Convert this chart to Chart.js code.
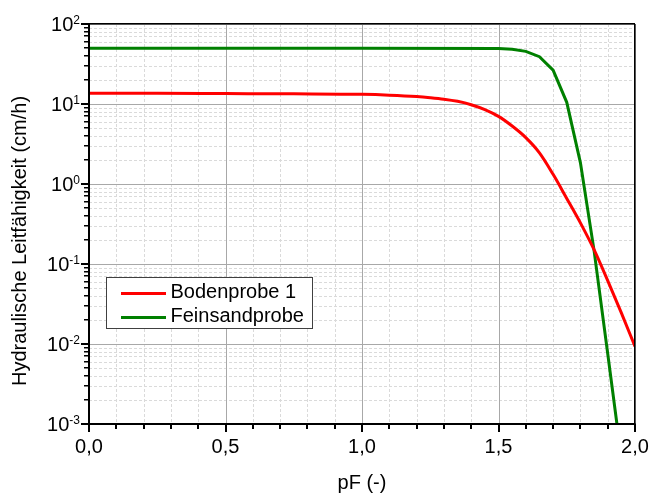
<!DOCTYPE html>
<html>
<head>
<meta charset="utf-8">
<script src="https://cdn.jsdelivr.net/npm/chart.js@4.4.1/dist/chart.umd.min.js"></script>
<style>
    html, body { margin: 0; padding: 0; background: #fff; }
    #wrap { width: 662px; height: 493px; }
</style>
</head>
<body>
<div id="wrap"><canvas id="myChart"></canvas></div>
<script>
// Bodenprobe 1 (red)
const pfBoden = [0, 0.25, 0.5, 0.75, 1.0, 1.1, 1.2, 1.25, 1.3, 1.35, 1.4, 1.45, 1.5, 1.55, 1.6, 1.65, 1.7, 1.75, 1.8, 1.85, 1.9, 1.95, 2.0];
const kBoden = [13.6, 13.6, 13.5, 13.4, 13.2, 12.9, 12.4, 12.0, 11.5, 10.8, 9.8, 8.5, 7.0, 5.3, 3.8, 2.45, 1.32, 0.66, 0.327, 0.151, 0.062, 0.0245, 0.0093];
// Feinsandprobe (green)
const pfFeinsand = [0, 0.5, 1.0, 1.5, 1.55, 1.6, 1.65, 1.7, 1.75, 1.8, 1.85, 1.9, 1.95];
const kFeinsand = [49.6, 49.6, 49.6, 49.3, 48.3, 45.5, 39, 26.5, 10.5, 1.85, 0.148, 0.0076, 0.00038];

const seriesNames = ['Bodenprobe 1', 'Feinsandprobe'];
const seriesColors = ['#ff0000', '#008000'];
const xTickValues = [0, 0.5, 1.0, 1.5, 2.0];
const yExponents = [2, 1, 0, -1, -2, -3];
const xTitle = 'pF (-)';
const yTitle = 'Hydraulische Leitfähigkeit (cm/h)';

const FONT = "'Liberation Sans', Arial, sans-serif";

const toPoints = (xs, ys) => xs.map((x, i) => ({ x: x, y: ys[i] }));

// grid lines behind the curves
const gridPlugin = {
    id: 'gridPlugin',
    beforeDatasetsDraw(chart) {
        const { ctx, chartArea: a, scales: { x, y } } = chart;
        ctx.save();
        ctx.lineWidth = 1;
        // minor dashed
        ctx.strokeStyle = '#dadada';
        ctx.setLineDash([3, 2]);
        for (let i = 1; i < 20; i++) {
            if (i % 5 === 0) continue;
            const px = Math.round(x.getPixelForValue(i / 10)) + 0.5;
            ctx.beginPath(); ctx.moveTo(px, a.top); ctx.lineTo(px, a.bottom); ctx.stroke();
        }
        for (let e = -3; e < 2; e++) {
            for (let m = 2; m <= 9; m++) {
                const py = Math.round(y.getPixelForValue(m * Math.pow(10, e))) + 0.5;
                ctx.beginPath(); ctx.moveTo(a.left, py); ctx.lineTo(a.right, py); ctx.stroke();
            }
        }
        // major solid
        ctx.setLineDash([]);
        ctx.strokeStyle = '#a8a8a8';
        xTickValues.forEach(v => {
            const px = Math.round(x.getPixelForValue(v)) + 0.5;
            ctx.beginPath(); ctx.moveTo(px, a.top); ctx.lineTo(px, a.bottom); ctx.stroke();
        });
        yExponents.forEach(e => {
            const py = Math.round(y.getPixelForValue(Math.pow(10, e))) + 0.5;
            ctx.beginPath(); ctx.moveTo(a.left, py); ctx.lineTo(a.right, py); ctx.stroke();
        });
        ctx.restore();
    }
};

// frame, ticks, y labels, y title and legend
const framePlugin = {
    id: 'framePlugin',
    afterDatasetsDraw(chart) {
        const { ctx, chartArea: a, scales: { x, y } } = chart;
        ctx.save();
        ctx.fillStyle = '#000';
        ctx.fillRect(a.left, a.top - 1, a.right - a.left, 1.5);
        ctx.fillRect(a.right - 1, a.top, 1.5, a.bottom - a.top);
        ctx.fillRect(a.left - 1, a.top - 1, 2, a.bottom - a.top + 2);
        ctx.fillRect(a.left - 1, a.bottom - 1, a.right - a.left + 1.5, 2);

        // bottom ticks
        for (let i = 0; i <= 20; i++) {
            const px = Math.round(x.getPixelForValue(i / 10));
            const len = i % 5 === 0 ? 8 : 5;
            ctx.fillRect(px - 1, a.bottom, 2, len);
        }
        // left ticks
        for (let e = -3; e <= 2; e++) {
            const py = Math.round(y.getPixelForValue(Math.pow(10, e)));
            ctx.fillRect(a.left - 8, py - 1, 8, 2);
            if (e === 2) continue;
            for (let m = 2; m <= 9; m++) {
                const pm = Math.round(y.getPixelForValue(m * Math.pow(10, e)));
                ctx.fillRect(a.left - 5, pm - 1, 5, 1.5);
            }
        }

        // y tick labels 10^n
        const labelRight = a.left - 9;
        yExponents.forEach(e => {
            const py = y.getPixelForValue(Math.pow(10, e));
            const exp = String(e);
            ctx.textAlign = 'right';
            ctx.textBaseline = 'alphabetic';
            ctx.font = '12px ' + FONT;
            const ew = ctx.measureText(exp).width;
            ctx.fillText(exp, labelRight, py);
            ctx.font = '20px ' + FONT;
            ctx.fillText('10', labelRight - ew, py + 7);
        });

        // y title
        ctx.save();
        ctx.translate(20.5, 241);
        ctx.rotate(-Math.PI / 2);
        ctx.font = '20px ' + FONT;
        ctx.textAlign = 'center';
        ctx.textBaseline = 'middle';
        ctx.fillText(yTitle, 0, 0);
        ctx.restore();

        // legend
        const bx = 106.5, by = 277.5, bw = 206, bh = 51;
        ctx.fillStyle = '#fff';
        ctx.fillRect(bx, by, bw, bh);
        ctx.strokeStyle = '#404040';
        ctx.lineWidth = 1;
        ctx.strokeRect(bx, by, bw, bh);
        chart.data.datasets.forEach((ds, i) => {
            const ly = 293.5 + i * 24;
            ctx.strokeStyle = ds.borderColor;
            ctx.lineWidth = 3;
            ctx.beginPath(); ctx.moveTo(121, ly); ctx.lineTo(166, ly); ctx.stroke();
            ctx.fillStyle = '#000';
            ctx.font = '20px ' + FONT;
            ctx.textAlign = 'left';
            ctx.textBaseline = 'middle';
            ctx.fillText(ds.label, 170.5, ly - 1);
        });
        ctx.restore();
    }
};

new Chart(document.getElementById('myChart'), {
    type: 'line',
    data: {
        datasets: [
            {
                label: seriesNames[0],
                data: toPoints(pfBoden, kBoden),
                borderColor: seriesColors[0],
                borderWidth: 3,
                pointRadius: 0,
                cubicInterpolationMode: 'monotone'
            },
            {
                label: seriesNames[1],
                data: toPoints(pfFeinsand, kFeinsand),
                borderColor: seriesColors[1],
                borderWidth: 3,
                pointRadius: 0,
                tension: 0
            }
        ]
    },
    options: {
        animation: false,
        responsive: true,
        maintainAspectRatio: false,
        layout: { padding: { top: 24, right: 27, left: 0, bottom: 0 } },
        scales: {
            x: {
                type: 'linear',
                min: 0,
                max: 2,
                grid: { display: false, drawTicks: false },
                border: { display: false },
                ticks: {
                    stepSize: 0.5,
                    padding: 11,
                    color: '#000',
                    font: { family: FONT, size: 20 },
                    maxRotation: 0,
                    callback: v => v.toFixed(1).replace('.', ',')
                },
                title: {
                    display: true,
                    text: xTitle,
                    color: '#000',
                    font: { family: FONT, size: 20, lineHeight: 1 },
                    padding: 0
                },
                afterFit: s => { s.height = 69; }
            },
            y: {
                type: 'logarithmic',
                min: 0.001,
                max: 100,
                grid: { display: false, drawTicks: false },
                border: { display: false },
                ticks: { display: false },
                afterFit: s => { s.width = 89; }
            }
        },
        plugins: {
            legend: { display: false },
            tooltip: { enabled: false }
        }
    },
    plugins: [gridPlugin, framePlugin]
});
</script>
</body>
</html>
